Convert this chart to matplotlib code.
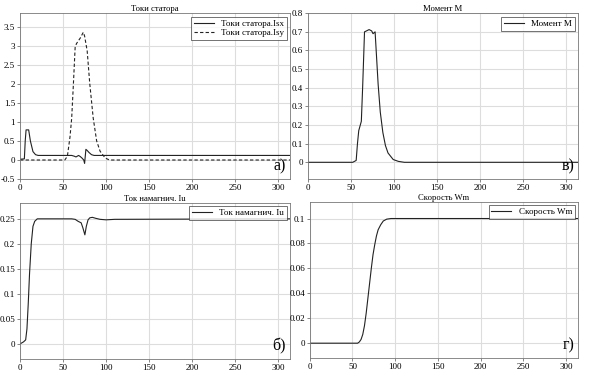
import numpy as np
import matplotlib
matplotlib.use("Agg")
import matplotlib.pyplot as plt

plt.rcParams['font.family'] = ['Liberation Serif', 'DejaVu Serif']

# --- DATA ---
T_END = 314

# Токи статора Isx
t_isx = [0, 5, 6, 7, 10, 12, 15, 18, 21, 60, 63, 65, 68, 70, 72, 74, 75, 76.5, 78, 80, 83, 86, 314]
isx = [0.02, 0.03, 0.5, 0.79, 0.79, 0.5, 0.22, 0.14, 0.12, 0.12, 0.1, 0.08, 0.12, 0.09, 0.05, 0.0, -0.09, 0.28, 0.25, 0.2, 0.14, 0.12, 0.12]

# Токи статора Isy
t_isy = [0, 52, 55, 58, 60, 62, 64, 65.5, 67, 70, 73.5, 75, 78, 81, 85, 89, 93, 99, 104, 314]
isy = [0, 0, 0.1, 0.6, 1.1, 2.0, 2.95, 3.05, 3.1, 3.2, 3.35, 3.25, 2.86, 2.0, 1.1, 0.5, 0.23, 0.05, 0.0, 0.0]

# Момент M
t_m = [0, 52, 56, 57.5, 59, 62, 63.5, 65.7, 68, 71, 74, 75.6, 78, 79, 81.5, 84, 87, 90, 93, 99, 105, 112, 314]
mom = [0, 0, 0.01, 0.1, 0.17, 0.22, 0.4, 0.7, 0.705, 0.712, 0.705, 0.69, 0.7, 0.62, 0.42, 0.27, 0.16, 0.09, 0.05, 0.015, 0.005, 0, 0]

# Ток намагнич. Iu
t_iu = [0, 4, 6.5, 8, 9.5, 11, 13, 15, 17, 20, 25, 60, 64, 67.5, 71, 73, 75.3, 77, 79, 81, 84, 88, 93, 100, 110, 314]
iu = [0, 0.004, 0.008, 0.03, 0.08, 0.14, 0.2, 0.235, 0.245, 0.25, 0.25, 0.25, 0.249, 0.245, 0.242, 0.232, 0.218, 0.235, 0.248, 0.252, 0.253, 0.251, 0.249, 0.248, 0.249, 0.25]

# Скорость Wm
t_wm = [0, 56, 58, 60, 62, 64, 66, 68, 70, 72, 74, 76, 78, 80, 83, 86, 90, 95, 100, 314]
wm = [0, 0, 0.001, 0.003, 0.007, 0.014, 0.024, 0.036, 0.048, 0.06, 0.071, 0.079, 0.086, 0.091, 0.095, 0.098, 0.0995, 0.1, 0.1, 0.1]

FS = 6.5
fig = plt.figure(figsize=(5.9, 3.77), dpi=100)

def setup(ax, title, ylim, yticks, label):
    ax.set_xlim(0, T_END)
    ax.set_ylim(*ylim)
    ax.set_xticks(range(0, 301, 50))
    ax.set_yticks(yticks)
    ax.tick_params(labelsize=FS, length=2, width=0.5, color='#555555', pad=1.5)
    ax.grid(True, color='#dddddd', linewidth=0.8)
    ax.set_axisbelow(True)
    for s in ax.spines.values():
        s.set_color('#777777')
        s.set_linewidth(0.6)
    ax.set_title(title, fontsize=6.2, pad=1.5)
    ax.text(0.985, 0.03, label, transform=ax.transAxes, ha='right', va='bottom', fontsize=11.5)
    leg = ax.legend(loc='upper right', fontsize=FS, frameon=True, fancybox=False,
                    borderpad=0.3, handlelength=2.2, labelspacing=0.1, borderaxespad=0.4)
    leg.get_frame().set_edgecolor('#333333')
    leg.get_frame().set_linewidth(0.6)

ax1 = fig.add_axes([0.034, 0.525, 0.458, 0.44])
ax1.plot(t_isx, isx, color='#222222', lw=0.8, label='Токи статора.Isx')
ax1.plot(t_isy, isy, color='#222222', lw=0.8, ls='--', dashes=(3, 2), label='Токи статора.Isy')
setup(ax1, 'Токи статора', (-0.5, 3.85), np.arange(-0.5, 3.51, 0.5), 'а)')
ax1.set_yticklabels(['-0.5', '0', '0.5', '1', '1.5', '2', '2.5', '3', '3.5'])

ax2 = fig.add_axes([0.522, 0.525, 0.458, 0.44])
ax2.plot(t_m, mom, color='#222222', lw=0.8, label='Момент M')
setup(ax2, 'Момент M', (-0.09, 0.8), np.arange(0, 0.81, 0.1), 'в)')
ax2.set_yticklabels(['0', '0.1', '0.2', '0.3', '0.4', '0.5', '0.6', '0.7', '0.8'])

ax3 = fig.add_axes([0.034, 0.048, 0.458, 0.414])
ax3.plot(t_iu, iu, color='#222222', lw=0.8, label='Ток намагнич. Iu')
setup(ax3, 'Ток намагнич. Iu', (-0.03, 0.282), np.arange(0, 0.251, 0.05), 'б)')
ax3.set_yticklabels(['0', '0.05', '0.1', '0.15', '0.2', '0.25'])

ax4 = fig.add_axes([0.525, 0.05, 0.455, 0.415])
ax4.plot(t_wm, wm, color='#222222', lw=0.8, label='Скорость Wm')
setup(ax4, 'Скорость Wm', (-0.012, 0.1135), np.arange(0, 0.101, 0.02), 'г)')
ax4.set_yticklabels(['0', '0.02', '0.04', '0.06', '0.08', '0.1'])

fig.savefig('out.png', dpi=100)
